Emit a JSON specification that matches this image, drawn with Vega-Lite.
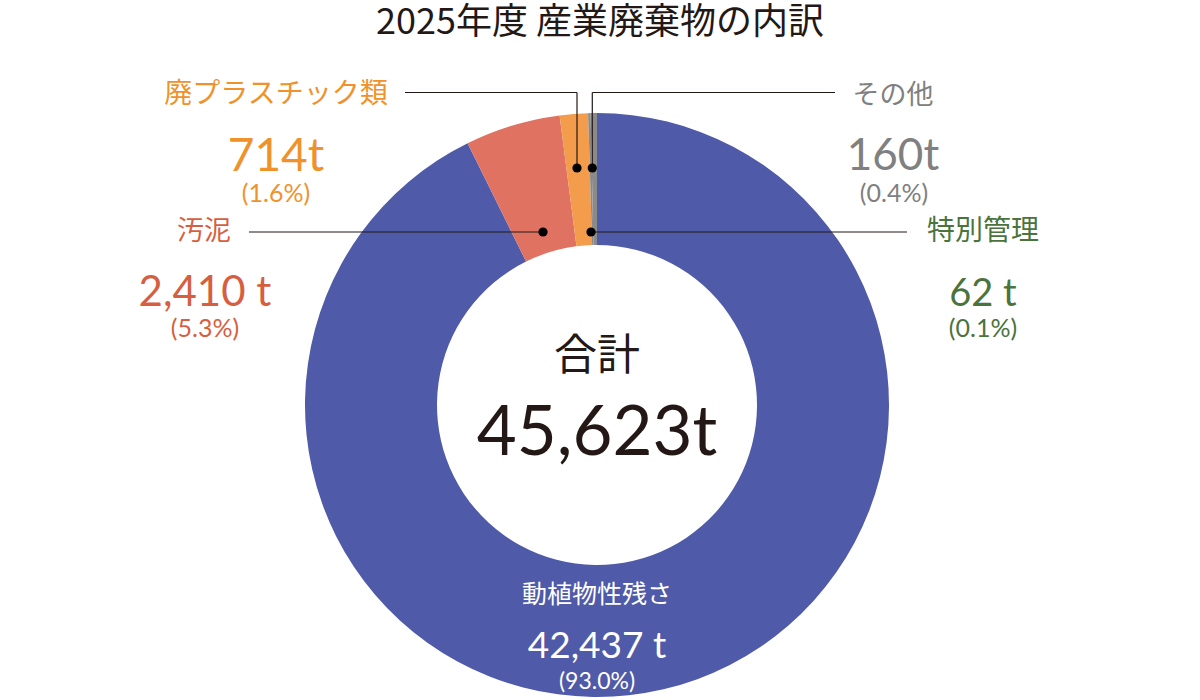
{
  "$schema": "https://vega.github.io/schema/vega-lite/v6.json",
  "width": 1200,
  "height": 700,
  "autosize": {"type": "none"},
  "padding": 0,
  "background": "white",
  "config": {"view": {"stroke": null}},
  "datasets": {
    "waste": [
      {"name": "動植物性残さ", "value": 42437, "order": 1, "amount": "42,437 t", "share": "(93.0%)"},
      {"name": "汚泥", "value": 2410, "order": 2, "amount": "2,410 t", "share": "(5.3%)"},
      {"name": "廃プラスチック類", "value": 714, "order": 3, "amount": "714t", "share": "(1.6%)"},
      {"name": "特別管理", "value": 62, "order": 4, "amount": "62 t", "share": "(0.1%)"},
      {"name": "その他", "value": 160, "order": 5, "amount": "160t", "share": "(0.4%)"}
    ]
  },
  "data": {"name": "waste"},
  "layer": [
    {
      "mark": {"type": "arc", "outerRadius": 292, "innerRadius": 160, "x": 597, "y": 405},
      "encoding": {
        "theta": {"field": "value", "type": "quantitative", "stack": true},
        "order": {"field": "order", "type": "quantitative"},
        "color": {
          "field": "name", "type": "nominal", "legend": null,
          "scale": {
            "domain": ["動植物性残さ", "汚泥", "廃プラスチック類", "特別管理", "その他"],
            "range": ["#4f5aa8", "#e07262", "#f29c4c", "#8a8a8a", "#8a8a8a"]
          }
        }
      }
    },
    {"transform": [{"filter": "datum.order === 1"}], "mark": {"type": "text", "text": "2025年度 産業廃棄物の内訳", "x": 600, "y": 23, "baseline": "middle", "align": "center", "font": "Noto Sans CJK JP", "fontSize": 36, "color": "#231815"}, "encoding": {}},
    {"transform": [{"filter": "datum.order === 1"}], "mark": {"type": "text", "text": "合計", "x": 597, "y": 357, "baseline": "middle", "align": "center", "font": "Noto Sans CJK JP", "fontSize": 43, "color": "#231815"}, "encoding": {}},
    {"transform": [{"filter": "datum.order === 1"}], "mark": {"type": "text", "text": "45,623t", "x": 597, "y": 455, "baseline": "alphabetic", "align": "center", "font": "Lato", "fontWeight": 400, "fontSize": 69, "color": "#231815"}, "encoding": {}},

    {"transform": [{"filter": "datum.order === 2"}], "mark": {"type": "rule", "color": "#231815", "strokeWidth": 1.2}, "encoding": {"x": {"value": 249}, "x2": {"value": 543}, "y": {"value": 232}, "y2": {"value": 232}}},
    {"transform": [{"filter": "datum.order === 3"}], "mark": {"type": "rule", "color": "#231815", "strokeWidth": 1.2}, "encoding": {"x": {"value": 405}, "x2": {"value": 577}, "y": {"value": 92.5}, "y2": {"value": 92.5}}},
    {"transform": [{"filter": "datum.order === 3"}], "mark": {"type": "rule", "color": "#231815", "strokeWidth": 1.2}, "encoding": {"x": {"value": 577}, "x2": {"value": 577}, "y": {"value": 92.5}, "y2": {"value": 168}}},
    {"transform": [{"filter": "datum.order === 5"}], "mark": {"type": "rule", "color": "#231815", "strokeWidth": 1.2}, "encoding": {"x": {"value": 592.3}, "x2": {"value": 835}, "y": {"value": 92.5}, "y2": {"value": 92.5}}},
    {"transform": [{"filter": "datum.order === 5"}], "mark": {"type": "rule", "color": "#231815", "strokeWidth": 1.2}, "encoding": {"x": {"value": 592.3}, "x2": {"value": 592.3}, "y": {"value": 92.5}, "y2": {"value": 168}}},
    {"transform": [{"filter": "datum.order === 4"}], "mark": {"type": "rule", "color": "#231815", "strokeWidth": 1.2}, "encoding": {"x": {"value": 591}, "x2": {"value": 907}, "y": {"value": 232}, "y2": {"value": 232}}},

    {"transform": [{"filter": "datum.order === 2"}], "mark": {"type": "point", "filled": true, "opacity": 1, "size": 85, "color": "#000000"}, "encoding": {"x": {"value": 543}, "y": {"value": 232}}},
    {"transform": [{"filter": "datum.order === 3"}], "mark": {"type": "point", "filled": true, "opacity": 1, "size": 85, "color": "#000000"}, "encoding": {"x": {"value": 577}, "y": {"value": 168}}},
    {"transform": [{"filter": "datum.order === 5"}], "mark": {"type": "point", "filled": true, "opacity": 1, "size": 85, "color": "#000000"}, "encoding": {"x": {"value": 592.3}, "y": {"value": 168}}},
    {"transform": [{"filter": "datum.order === 4"}], "mark": {"type": "point", "filled": true, "opacity": 1, "size": 85, "color": "#000000"}, "encoding": {"x": {"value": 591}, "y": {"value": 232}}},

    {"transform": [{"filter": "datum.order === 1"}], "mark": {"type": "text", "x": 597, "y": 595, "baseline": "middle", "align": "center", "font": "Noto Sans CJK JP", "fontSize": 25, "color": "#ffffff"}, "encoding": {"text": {"field": "name"}}},
    {"transform": [{"filter": "datum.order === 1"}], "mark": {"type": "text", "x": 597, "y": 647, "align": "center", "font": "Lato", "fontSize": 37, "color": "#ffffff"}, "encoding": {"text": {"field": "amount"}}},
    {"transform": [{"filter": "datum.order === 1"}], "mark": {"type": "text", "x": 597, "y": 682, "align": "center", "font": "Lato", "fontSize": 23, "color": "#ffffff"}, "encoding": {"text": {"field": "share"}}},

    {"transform": [{"filter": "datum.order === 2"}], "mark": {"type": "text", "x": 204, "y": 232, "baseline": "middle", "align": "center", "font": "Noto Sans CJK JP", "fontSize": 27, "color": "#d65f3f"}, "encoding": {"text": {"field": "name"}}},
    {"transform": [{"filter": "datum.order === 2"}], "mark": {"type": "text", "x": 205, "y": 293, "align": "center", "font": "Lato", "fontSize": 42, "color": "#d65f3f"}, "encoding": {"text": {"field": "amount"}}},
    {"transform": [{"filter": "datum.order === 2"}], "mark": {"type": "text", "x": 205, "y": 329, "align": "center", "font": "Lato", "fontSize": 25, "color": "#d65f3f"}, "encoding": {"text": {"field": "share"}}},

    {"transform": [{"filter": "datum.order === 3"}], "mark": {"type": "text", "x": 276, "y": 95, "baseline": "middle", "align": "center", "font": "Noto Sans CJK JP", "fontSize": 28, "color": "#f0922b"}, "encoding": {"text": {"field": "name"}}},
    {"transform": [{"filter": "datum.order === 3"}], "mark": {"type": "text", "x": 276, "y": 157, "align": "center", "font": "Lato", "fontSize": 46, "color": "#f0922b"}, "encoding": {"text": {"field": "amount"}}},
    {"transform": [{"filter": "datum.order === 3"}], "mark": {"type": "text", "x": 276, "y": 194, "align": "center", "font": "Lato", "fontSize": 25, "color": "#f0922b"}, "encoding": {"text": {"field": "share"}}},

    {"transform": [{"filter": "datum.order === 5"}], "mark": {"type": "text", "x": 893, "y": 96, "baseline": "middle", "align": "center", "font": "Noto Sans CJK JP", "fontSize": 27, "color": "#808080"}, "encoding": {"text": {"field": "name"}}},
    {"transform": [{"filter": "datum.order === 5"}], "mark": {"type": "text", "x": 893, "y": 157, "align": "center", "font": "Lato", "fontSize": 44, "color": "#808080"}, "encoding": {"text": {"field": "amount"}}},
    {"transform": [{"filter": "datum.order === 5"}], "mark": {"type": "text", "x": 894, "y": 194, "align": "center", "font": "Lato", "fontSize": 25, "color": "#808080"}, "encoding": {"text": {"field": "share"}}},

    {"transform": [{"filter": "datum.order === 4"}], "mark": {"type": "text", "x": 983, "y": 232, "baseline": "middle", "align": "center", "font": "Noto Sans CJK JP", "fontSize": 28, "color": "#4b733c"}, "encoding": {"text": {"field": "name"}}},
    {"transform": [{"filter": "datum.order === 4"}], "mark": {"type": "text", "x": 983, "y": 295, "align": "center", "font": "Lato", "fontSize": 38, "color": "#4b733c"}, "encoding": {"text": {"field": "amount"}}},
    {"transform": [{"filter": "datum.order === 4"}], "mark": {"type": "text", "x": 983, "y": 329, "align": "center", "font": "Lato", "fontSize": 25, "color": "#4b733c"}, "encoding": {"text": {"field": "share"}}}
  ]
}
